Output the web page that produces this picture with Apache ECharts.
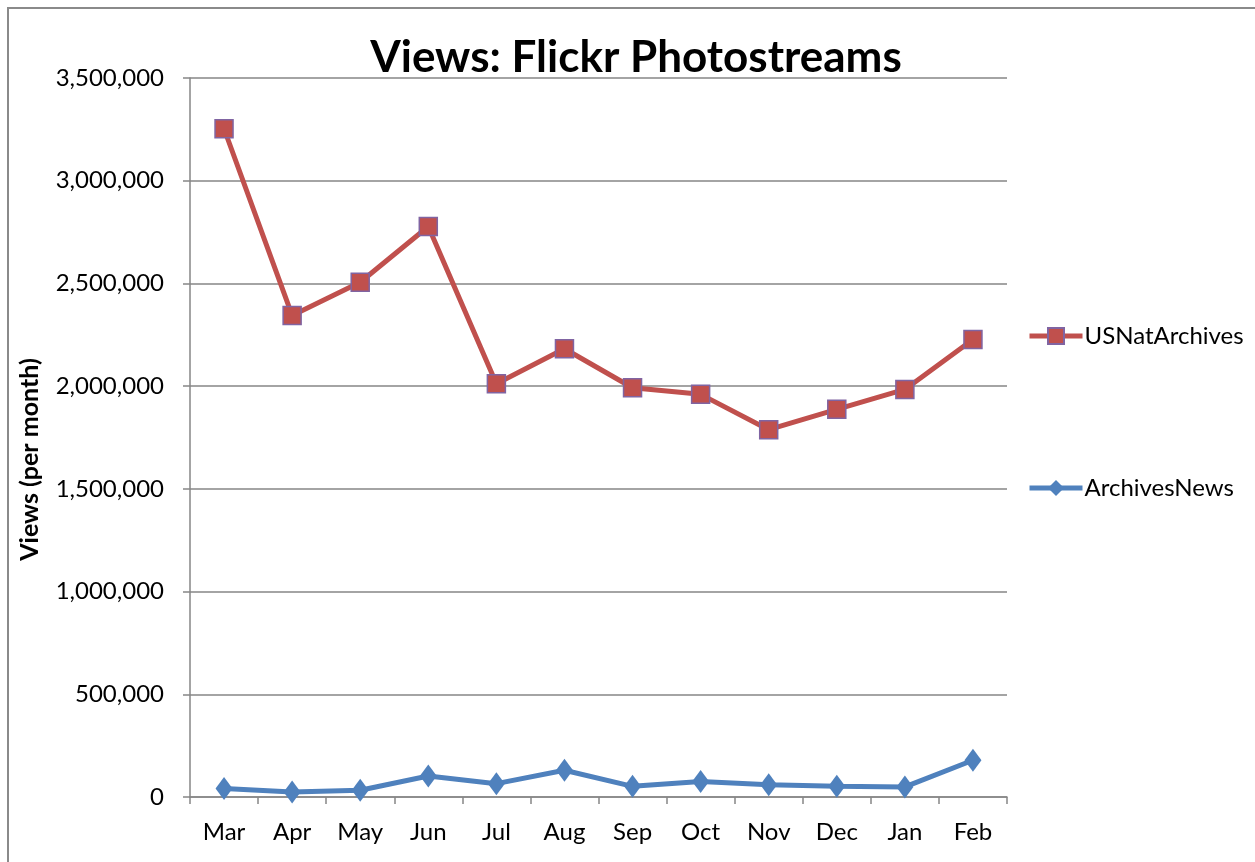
<!DOCTYPE html>
<html>
<head>
<meta charset="utf-8">
<script src="https://cdn.jsdelivr.net/npm/echarts@6/dist/echarts.min.js"></script>
<style>
html,body{margin:0;padding:0;background:#fff;}
#frame{position:absolute;left:7px;top:7px;width:1400px;height:1000px;border-left:2px solid #8a8a8a;border-top:2px solid #8a8a8a;box-sizing:border-box;}
#chart{position:absolute;left:0;top:0;width:1255px;height:862px;}
</style>
</head>
<body>
<div id="frame"></div>
<div id="chart"></div>
<script>
const months = ['Mar','Apr','May','Jun','Jul','Aug','Sep','Oct','Nov','Dec','Jan','Feb'];
const usNatArchives = [3253000, 2344000, 2506000, 2777000, 2012000, 2182000, 1992000, 1960000, 1788000, 1887000, 1984000, 2227000];
const archivesNews = [41000, 24000, 33000, 102000, 65000, 130000, 52000, 76000, 60000, 52000, 49000, 179000];
const yTicks = [0, 500000, 1000000, 1500000, 2000000, 2500000, 3000000, 3500000];

const FONT = 'Lato';
const chart = echarts.init(document.getElementById('chart'), null, {renderer: 'canvas'});
chart.setOption({
  backgroundColor: 'transparent',
  animation: false,
  title: {
    text: 'Views: Flickr Photostreams',
    left: 631,
    textAlign: 'center',
    top: 31,
    textStyle: {fontFamily: FONT, fontWeight: 'bold', fontSize: 44, color: '#000'}
  },
  legend: {
    orient: 'vertical',
    left: 1027,
    top: 324,
    padding: 0,
    itemWidth: 53,
    itemHeight: 20,
    itemGap: 128,
    data: ['USNatArchives', 'ArchivesNews'],
    lineStyle: {width: 5},
    textStyle: {fontFamily: FONT, fontSize: 24, lineHeight: 20, color: '#000', padding: [0,0,0,-3]}
  },
  grid: {left: 190, right: 248, top: 78, bottom: 65},
  xAxis: {
    type: 'category',
    data: months,
    boundaryGap: true,
    axisLine: {lineStyle: {color: '#868686', width: 1.5}},
    axisTick: {show: true, length: 7, alignWithLabel: false, lineStyle: {color: '#868686', width: 1.5}},
    axisLabel: {fontFamily: FONT, fontSize: 24, color: '#000', margin: 23}
  },
  yAxis: {
    type: 'value',
    min: yTicks[0],
    max: yTicks[yTicks.length - 1],
    interval: yTicks[1] - yTicks[0],
    name: 'Views (per month)',
    nameLocation: 'middle',
    nameRotate: 90,
    nameGap: 148,
    nameTextStyle: {fontFamily: FONT, fontWeight: 'bold', fontSize: 25, color: '#000', padding: [0, 44, 0, 0]},
    axisLine: {show: true, lineStyle: {color: '#868686', width: 1.5}},
    axisTick: {show: true, length: 7, lineStyle: {color: '#868686', width: 1.5}},
    splitLine: {show: true, lineStyle: {color: '#868686', width: 1.5}},
    axisLabel: {
      fontFamily: FONT, fontSize: 24, color: '#000', margin: 26,
      formatter: v => v.toLocaleString('en-US')
    }
  },
  series: [
    {
      name: 'USNatArchives',
      type: 'line',
      data: usNatArchives,
      symbol: 'rect',
      symbolSize: 18,
      color: '#C0504D',
      lineStyle: {color: '#C0504D', width: 5},
      itemStyle: {color: '#C0504D', borderColor: '#8064A2', borderWidth: 1.5},
      z: 3
    },
    {
      name: 'ArchivesNews',
      type: 'line',
      data: archivesNews,
      symbol: 'diamond',
      symbolSize: [17, 23],
      color: '#4F81BD',
      lineStyle: {color: '#4F81BD', width: 5},
      itemStyle: {color: '#4F81BD'},
      z: 2
    }
  ]
});
</script>
</body>
</html>
